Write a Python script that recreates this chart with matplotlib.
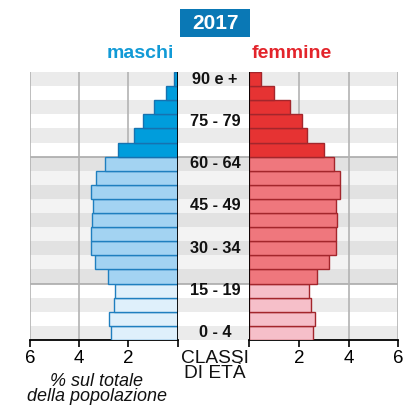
import matplotlib
matplotlib.use("Agg")
import matplotlib.pyplot as plt
from matplotlib.patches import Rectangle

plt.rcParams['font.family'] = ['Liberation Sans', 'DejaVu Sans']

# Age classes from youngest (bottom) to oldest (top)
classes = ["0 - 4", "5 - 9", "10 - 14", "15 - 19", "20 - 24", "25 - 29", "30 - 34",
           "35 - 39", "40 - 44", "45 - 49", "50 - 54", "55 - 59", "60 - 64",
           "65 - 69", "70 - 74", "75 - 79", "80 - 84", "85 - 89", "90 e +"]
maschi = [2.72, 2.79, 2.58, 2.54, 2.84, 3.35, 3.54, 3.52, 3.47, 3.43, 3.51, 3.32, 2.97,
          2.44, 1.78, 1.42, 0.97, 0.46, 0.15]
femmine = [2.58, 2.66, 2.47, 2.42, 2.71, 3.21, 3.48, 3.48, 3.52, 3.49, 3.67, 3.67, 3.43,
           3.01, 2.31, 2.11, 1.64, 1.00, 0.46]
shown_labels = ["0 - 4", "15 - 19", "30 - 34", "45 - 49", "60 - 64", "75 - 79", "90 e +"]
x_ticks = [2, 4, 6]

W, H = 403, 408
fig = plt.figure(figsize=(W / 100, H / 100), dpi=100)

def fx(px):
    return px / W

def fy(py):
    return 1 - py / H

top, bottom = 72, 340
xl0, xl1 = 30, 177.7
xr0, xr1 = 249.3, 398.3
n = len(classes)

def group(i):
    if i <= 3:
        return 0
    if i <= 12:
        return 1
    return 2

# background axes
bg = fig.add_axes([fx(xl0), fy(bottom), fx(xr1 - xl0), (bottom - top) / H])
bg.set_xlim(0, 1)
bg.set_ylim(-0.5, n - 0.5)
bg.axis('off')
for i in range(n):
    g = group(i)
    if g == 1:
        c = '#e2e2e2' if (i % 2 == 0) else '#f3f3f3'
    elif g == 0:
        c = '#ebebeb' if i == 0 or i == 2 else '#ffffff'
    else:
        c = '#ebebeb' if i in (18, 16, 14) else '#ffffff'
    bg.axhspan(i - 0.5, i + 0.5, color=c, lw=0, zorder=0)
for yb in (3.5, 12.5):
    bg.axhline(yb, color='#aaaaaa', lw=1.2, zorder=1)

colors_m = ['#dff0fb', '#a3d3f2', '#009ddc']
edges_m = ['#1f7fbf', '#1f7fbf', '#1672b0']
colors_f = ['#f6bfc9', '#ef777d', '#e63333']
edges_f = ['#a3262c', '#a3262c', '#a3262c']

axL = fig.add_axes([fx(xl0), fy(bottom), fx(xl1 - xl0), (bottom - top) / H])
axR = fig.add_axes([fx(xr0), fy(bottom), fx(xr1 - xr0), (bottom - top) / H])
for ax in (axL, axR):
    ax.patch.set_alpha(0)
    ax.set_ylim(-0.5, n - 0.5)
    ax.set_yticks([])
    for s in ('top', 'left', 'right'):
        ax.spines[s].set_visible(False)
    ax.spines['bottom'].set_linewidth(1.3)
    ax.spines['bottom'].set_color('black')
    ax.tick_params(axis='x', length=5, width=1.2, direction='out', labelsize=13.5, pad=2)

axL.set_xlim(6, 0)
axR.set_xlim(0, 6)

for ax, xs in ((axL, [6, 4, 2]), (axR, [2, 4, 6])):
    for xv in xs:
        ax.axvline(xv, color='#b3b3b3', lw=1.2, zorder=1)
    ax.axvline(0, color='black', lw=1.3, zorder=4)

for i in range(n):
    g = group(i)
    axL.barh(i, maschi[i], height=1.0, color=colors_m[g], edgecolor=edges_m[g], lw=1.0, zorder=3)
    axR.barh(i, femmine[i], height=1.0, color=colors_f[g], edgecolor=edges_f[g], lw=1.0, zorder=3)

axL.set_xticks([6, 4, 2, 0])
axL.set_xticklabels([str(v) for v in [6, 4, 2]] + [''])
axR.set_xticks([0, 2, 4, 6])
axR.set_xticklabels([''] + [str(v) for v in x_ticks])

# age labels in the middle
for i, c in enumerate(classes):
    if c in shown_labels:
        bg.text((215 - xl0) / (xr1 - xl0), i, c, ha='center', va='center',
                fontsize=11.7, fontweight='bold', color='#111111', zorder=5)

# title box
fig.patches.append(Rectangle((fx(180), fy(37)), fx(70), 28 / H, transform=fig.transFigure,
                             fc='#0a78b5', ec='none'))
fig.text(fx(215), fy(23.5), "2017", ha='center', va='center', fontsize=15,
         fontweight='bold', color='white')
fig.text(fx(174), fy(53), "maschi", ha='right', va='center', fontsize=14,
         fontweight='bold', color='#119ad6')
fig.text(fx(252), fy(53), "femmine", ha='left', va='center', fontsize=14,
         fontweight='bold', color='#e3242b')

fig.text(fx(215), fy(366), "CLASSI\nDI ETÀ", ha='center', va='center', fontsize=13.8,
         linespacing=0.9, color='#111111')
fig.text(fx(97), fy(389), "% sul totale\ndella popolazione", ha='center', va='center',
         fontsize=13, style='italic', linespacing=0.9, color='#111111')

fig.savefig("out.png", dpi=100)
